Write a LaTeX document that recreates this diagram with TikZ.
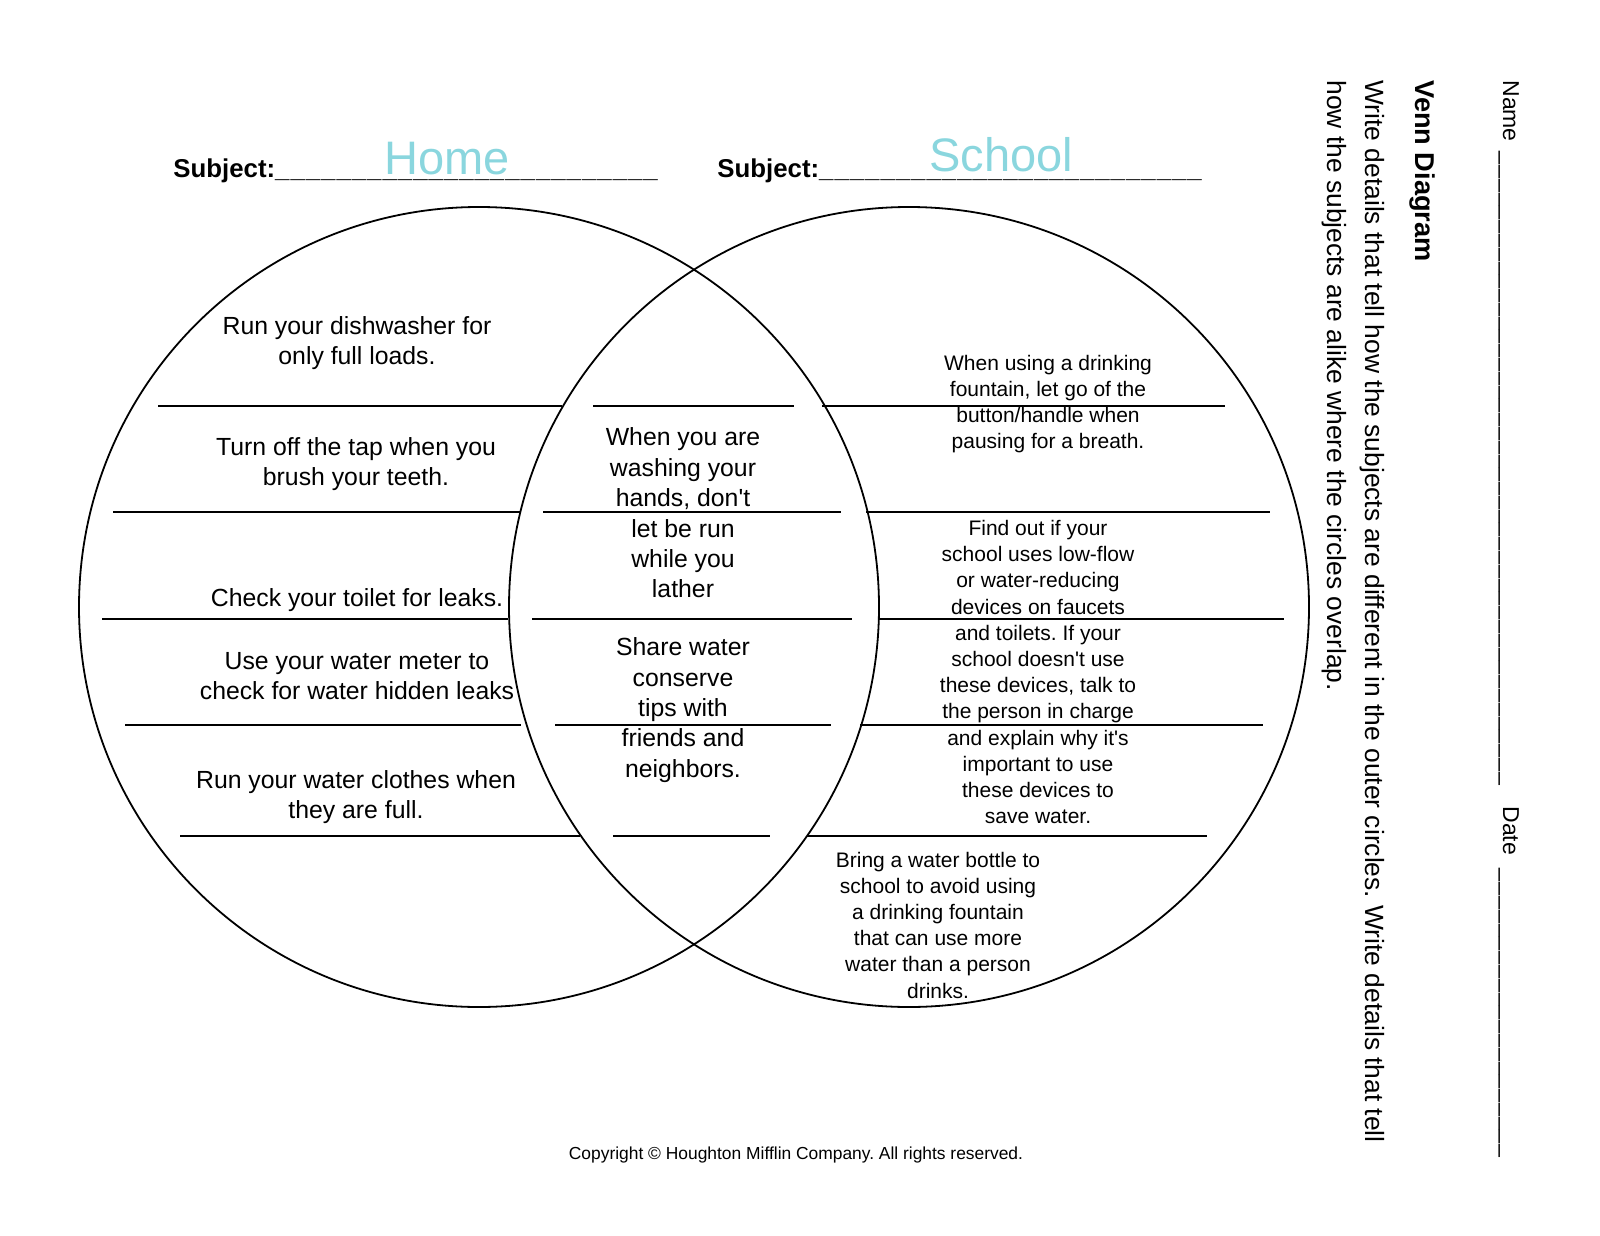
\documentclass[tikz,border=0pt]{standalone}
\usepackage{fontspec}
\setmainfont{Liberation Sans}
\definecolor{subjcyan}{RGB}{138,214,222}
% a row of underscores of a given length
\newcommand{\fillrule}[1]{\hbox to #1{\leaders\hbox{\_\kern0.5pt}\hfill}}
\newcommand{\ap}{\textquotesingle}
\frenchspacing

\begin{document}
\begin{tikzpicture}[x=0.5pt,y=-0.5pt,
    tip/.style={align=center, inner sep=0pt, font=\fontsize{12.4}{15.2}\selectfont},
    smalltip/.style={align=center, inner sep=0pt, font=\fontsize{10.5}{13.1}\selectfont},
    subj/.style={anchor=base west, inner sep=0pt, font=\bfseries\fontsize{12.9}{15}\selectfont},
    topic/.style={anchor=base, inner sep=0pt, text=subjcyan, font=\fontsize{23.5}{28}\selectfont},
    side/.style={rotate=-90, anchor=base west, inner sep=0pt},
    rim/.style={line width=0.9pt},
    slot/.style={line width=0.8pt}]
  \useasboundingbox (0,0) rectangle (1600,1236);

  % the two circles
  \draw[rim] (479,607) circle (200pt);
  \draw[rim] (909,607) circle (200pt);

  % writing lines: y, then left / middle / right pieces
  \foreach \y/\la/\lb/\ma/\mb/\ra/\rb in {406/158/562/593/794/822/1225,
      512/113/521/543/841/866/1270, 619/102/508/532/852/878/1284,
      725/125/521/555/831/860/1263, 836/180/580/613/770/807/1207} {
    \draw[slot] (\la,\y) -- (\lb,\y);
    \draw[slot] (\ma,\y) -- (\mb,\y);
    \draw[slot] (\ra,\y) -- (\rb,\y);
  }

  % subjects
  \node[subj] (subjA) at (173,177) {Subject:\fillrule{195pt}};
  \node[subj] (subjB) at (717,177) {Subject:\fillrule{195pt}};
  \node[topic] (home) at (447,174) {Home};
  \node[topic] (school) at (1001,171) {School};

  % home only
  \node[tip] (homeA) at (357,343) {Run your dishwasher for\\only full loads.};
  \node[tip] (homeB) at (356,464) {Turn off the tap when you\\brush your teeth.};
  \node[tip] (homeC) at (357,600) {Check your toilet for leaks.};
  \node[tip] (homeD) at (357,676) {Use your water meter to\\check for water hidden leaks};
  \node[tip] (homeE) at (356,797) {Run your water clothes when\\they are full.};

  % both
  \node[tip] (bothA) at (683,513) {When you are\\washing your\\hands, don\ap t\\let be run\\while you\\lather};
  \node[tip] (bothB) at (683,710) {Share water\\conserve\\tips with\\friends and\\neighbors.};

  % school only
  \node[smalltip] (schoolA) at (1048,404) {When using a drinking\\fountain, let go of the\\button/handle when\\pausing for a breath.};
  \node[smalltip] (schoolB) at (1038,672) {Find out if your\\school uses low-flow\\or water-reducing\\devices on faucets\\and toilets. If your\\school doesn\ap t use\\these devices, talk to\\the person in charge\\and explain why it\ap s\\important to use\\these devices to\\save water.};
  \node[smalltip] (schoolC) at (938,925) {Bring a water bottle to\\school to avoid using\\a drinking fountain\\that can use more\\water than a person\\drinks.};

  % side strip
  \node[side, font=\fontsize{11.5}{14}\selectfont] (name) at (1503,80) {Name\hspace{5pt}\fillrule{321pt}};
  \node[side, font=\fontsize{11.5}{14}\selectfont] (date) at (1503,806) {Date\hspace{7pt}\fillrule{149pt}};
  \node[side, font=\bfseries\fontsize{13.6}{16}\selectfont] (title) at (1415,80) {Venn Diagram};
  \node[side, font=\fontsize{13.2}{16}\selectfont] (howA) at (1365,80) {Write details that tell how the subjects are different in the outer circles. Write details that tell};
  \node[side, font=\fontsize{13.2}{16}\selectfont] (howB) at (1327,80) {how the subjects are alike where the circles overlap.};

  \node[anchor=base, inner sep=0pt, font=\fontsize{8.7}{10}\selectfont] (copy) at (796,1159) {Copyright © Houghton Mifflin Company. All rights reserved.};
\end{tikzpicture}
\end{document}
